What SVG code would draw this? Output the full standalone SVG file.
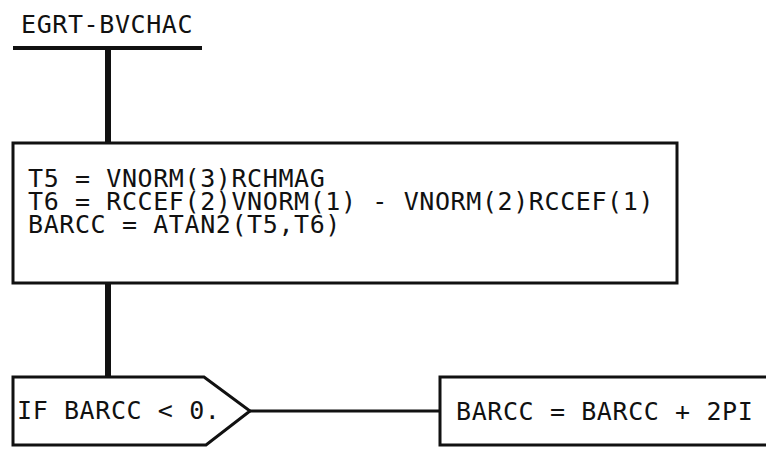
<svg xmlns="http://www.w3.org/2000/svg" width="766" height="451" viewBox="0 0 766 451">
<style>
.t{font-family:"DejaVu Sans Mono","Liberation Mono",monospace;font-size:25px;letter-spacing:0.6px;fill:#111;}
.box{fill:#fff;stroke:#111;stroke-width:3;}
.conn{stroke:#111;fill:none;}
</style>
<rect width="766" height="451" fill="#fff"/>
<g id="connectors">
<line class="conn" x1="13" y1="48" x2="202" y2="48" stroke-width="4"/>
<line class="conn" x1="108" y1="48" x2="108" y2="143" stroke-width="6"/>
<line class="conn" x1="108" y1="283" x2="108" y2="377" stroke-width="6"/>
<line class="conn" x1="250" y1="411" x2="440" y2="411" stroke-width="3"/>
</g>
<g id="title">
<text class="t" x="21" y="33">EGRT-BVCHAC</text>
</g>
<g id="compute">
<rect class="box" x="13" y="143" width="664" height="140"/>
<text class="t" x="28" y="187"><tspan x="28" y="187">T5 = VNORM(3)RCHMAG</tspan><tspan x="28" y="210">T6 = RCCEF(2)VNORM(1) - VNORM(2)RCCEF(1)</tspan><tspan x="28" y="233">BARCC = ATAN2(T5,T6)</tspan></text>
</g>
<g id="decision">
<polygon class="box" points="13,377 204,377 250,411 206,445 13,445"/>
<text class="t" x="17" y="419">IF BARCC &lt; 0.</text>
</g>
<g id="adjust">
<rect class="box" x="440" y="377" width="340" height="68"/>
<text class="t" x="456" y="420">BARCC = BARCC + 2PI</text>
</g>
</svg>
